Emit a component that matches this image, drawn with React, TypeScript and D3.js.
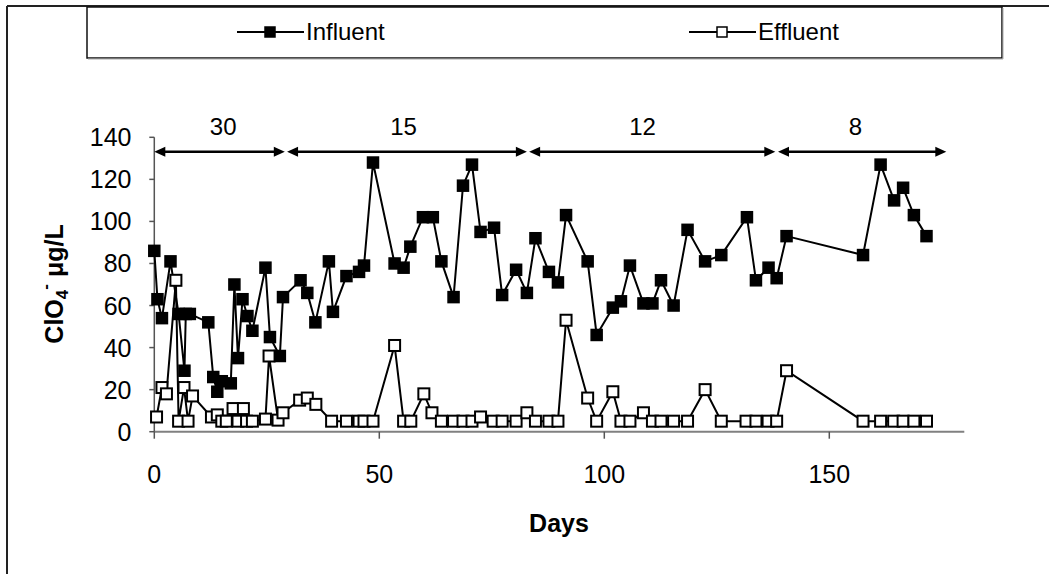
import React from 'react';
import * as d3 from 'd3';

// ---- data ----
const influentDays = [0, 0.7, 1.7, 3.6, 5.4, 6.7, 7, 7.9, 12, 13.1, 14, 15, 17, 17.8, 18.6, 19.6, 20.7, 21.8, 24.7, 25.7, 27.9, 28.6, 32.5, 34, 35.8, 38.8, 39.7, 42.7, 45.5, 46.6, 48.6, 53.4, 55.4, 56.9, 59.7, 61.9, 63.8, 66.5, 68.6, 70.6, 72.5, 75.5, 77.3, 80.4, 82.8, 84.7, 87.7, 89.7, 91.5, 96.3, 98.3, 101.9, 103.7, 105.7, 108.7, 110.7, 112.6, 115.4, 118.5, 122.4, 126, 131.7, 133.7, 136.5, 138.3, 140.5, 157.5, 161.4, 164.4, 166.4, 168.8, 171.6];
const influentValues = [86, 63, 54, 81, 56, 29, 56, 56, 52, 26, 19, 24, 23, 70, 35, 63, 55, 48, 78, 45, 36, 64, 72, 66, 52, 81, 57, 74, 76, 79, 128, 80, 78, 88, 102, 102, 81, 64, 117, 127, 95, 97, 65, 77, 66, 92, 76, 71, 103, 81, 46, 59, 62, 79, 61, 61, 72, 60, 96, 81, 84, 102, 72, 78, 73, 93, 84, 127, 110, 116, 103, 93];

const effluentDays = [0.5, 1.7, 2.7, 4.8, 5.4, 6.6, 7.5, 8.5, 12.7, 14, 15, 16, 17.5, 18.6, 19.8, 20.5, 21.8, 24.7, 25.5, 27.5, 28.6, 32.3, 34, 35.9, 39.4, 42.7, 45.5, 46.6, 48.6, 53.4, 55.4, 57, 59.9, 61.7, 63.8, 66.5, 68.6, 70.6, 72.5, 75.3, 77.3, 80.4, 82.8, 84.7, 87.7, 89.7, 91.5, 96.3, 98.3, 101.9, 103.7, 105.7, 108.7, 110.7, 112.6, 115.4, 118.5, 122.4, 126, 131.5, 133.7, 136.4, 138.3, 140.5, 157.5, 161.4, 164.3, 166.4, 168.8, 171.6];
const effluentValues = [7, 21, 18, 72, 5, 21, 5, 17, 7, 8, 5, 5, 11, 5, 11, 5, 5, 6, 36, 5.5, 9, 15, 16, 13, 5, 5, 5, 5, 5, 41, 5, 5, 18, 9, 5, 5, 5, 5, 7, 5, 5, 5, 9, 5, 5, 5, 53, 16, 5, 19, 5, 5, 9, 5, 5, 5, 5, 20, 5, 5, 5, 5, 5, 29, 5, 5, 5, 5, 5, 5];

const periodLabels = ['30', '15', '12', '8'];
const periodStart = [0, 29.5, 83.3, 138.6];
const periodEnd = [29, 82.8, 138, 176];
const periodLabelDay = [15.3, 55.4, 108.5, 155.8];

const xTicks = [0, 50, 100, 150];
const yTicks = [0, 20, 40, 60, 80, 100, 120, 140];

const seriesNames = ['Influent', 'Effluent'];

const FONT = "Arial, 'Liberation Sans', sans-serif";

export default function App() {
  const W = 1049, H = 574;
  const x = d3.scaleLinear().domain([0, 180]).range([154.3, 964.3]);
  const y = d3.scaleLinear().domain([0, 140]).range([431.7, 137.3]);

  const infl = influentDays.map((d, i) => [d, influentValues[i]] as [number, number]);
  const effl = effluentDays.map((d, i) => [d, effluentValues[i]] as [number, number]);
  const line = d3.line<[number, number]>().x(d => x(d[0])).y(d => y(d[1]));

  const ms = 11;
  const arrowY = 151.8;
  const ah = 11, aw = 5;

  return (
    <svg width={W} height={H} style={{ position: 'absolute', left: 0, top: 0, background: '#fff' }} fontFamily={FONT}>
      <rect x={0} y={0} width={W} height={H} fill="#fff" />
      {/* outer frame */}
      <line x1={7} y1={6} x2={W} y2={6} stroke="#222" strokeWidth={2} />
      <line x1={7} y1={6} x2={7} y2={H} stroke="#222" strokeWidth={2} />
      {/* legend box */}
      <rect x={87} y={7} width={915} height={51} fill="#fff" stroke="#111" strokeWidth={1.5} />
      <line x1={1003} y1={8} x2={1003} y2={59} stroke="#aaa" strokeWidth={1} />
      <line x1={88} y1={59} x2={1003} y2={59} stroke="#aaa" strokeWidth={1} />
      {seriesNames.map((name, i) => {
        const cx = i === 0 ? 270 : 722;
        return (
          <g key={name}>
            <line x1={cx - 33} x2={cx + 34} y1={32} y2={32} stroke="#000" strokeWidth={2} />
            <rect x={cx - 5} y={27} width={10} height={10} fill={i === 0 ? '#000' : '#fff'} stroke="#000" strokeWidth={1.5} />
            <text x={cx + 36} y={32} dy="0.35em" fontSize={24} fill="#000">{name}</text>
          </g>
        );
      })}

      {/* axes */}
      <line x1={x(0)} x2={x(180)} y1={y(0)} y2={y(0)} stroke="#808080" strokeWidth={2} />
      <line x1={x(0)} x2={x(0)} y1={y(0)} y2={y(140)} stroke="#555" strokeWidth={1.5} />
      {yTicks.map(t => (
        <g key={'y' + t}>
          <line x1={x(0) - 5} x2={x(0)} y1={y(t)} y2={y(t)} stroke="#555" strokeWidth={1.5} />
          <text x={131.5} y={y(t)} dy="0.36em" textAnchor="end" fontSize={25} fill="#000">{t}</text>
        </g>
      ))}
      {xTicks.map(t => (
        <g key={'x' + t}>
          <line x1={x(t)} x2={x(t)} y1={y(0)} y2={y(0) + 7} stroke="#555" strokeWidth={1.5} />
          <text x={x(t)} y={483.3} textAnchor="middle" fontSize={25} fill="#000">{t}</text>
        </g>
      ))}
      <text x={559} y={532} textAnchor="middle" fontSize={25} fontWeight="bold" fill="#000">Days</text>
      <text transform="translate(63,284) rotate(-90)" textAnchor="middle" fontSize={25} fontWeight="bold" fill="#000">
        ClO<tspan fontSize={17} dy={5}>4</tspan><tspan fontSize={17} dy={-17}>-</tspan><tspan dy={12}> μg/L</tspan>
      </text>

      {/* period arrows */}
      {periodLabels.map((lab, i) => {
        const x0 = x(periodStart[i]), x1 = x(periodEnd[i]);
        return (
          <g key={'p' + i}>
            <line x1={x0 + ah - 1} x2={x1 - ah + 1} y1={arrowY} y2={arrowY} stroke="#000" strokeWidth={2.5} />
            <path d={`M${x0},${arrowY}L${x0 + ah},${arrowY - aw}L${x0 + ah},${arrowY + aw}Z`} fill="#000" />
            <path d={`M${x1},${arrowY}L${x1 - ah},${arrowY - aw}L${x1 - ah},${arrowY + aw}Z`} fill="#000" />
            <text x={x(periodLabelDay[i])} y={135} textAnchor="middle" fontSize={24} fill="#000">{lab}</text>
          </g>
        );
      })}

      {/* influent */}
      <path d={line(infl) || ''} fill="none" stroke="#000" strokeWidth={2} />
      {infl.map((d, i) => (
        <rect key={'i' + i} x={x(d[0]) - ms / 2} y={y(d[1]) - ms / 2} width={ms} height={ms} fill="#000" stroke="#000" strokeWidth={1.5} />
      ))}
      {/* effluent */}
      <path d={line(effl) || ''} fill="none" stroke="#000" strokeWidth={2} />
      {effl.map((d, i) => (
        <rect key={'e' + i} x={x(d[0]) - ms / 2} y={y(d[1]) - ms / 2} width={ms} height={ms} fill="#fff" stroke="#000" strokeWidth={2} />
      ))}
    </svg>
  );
}
